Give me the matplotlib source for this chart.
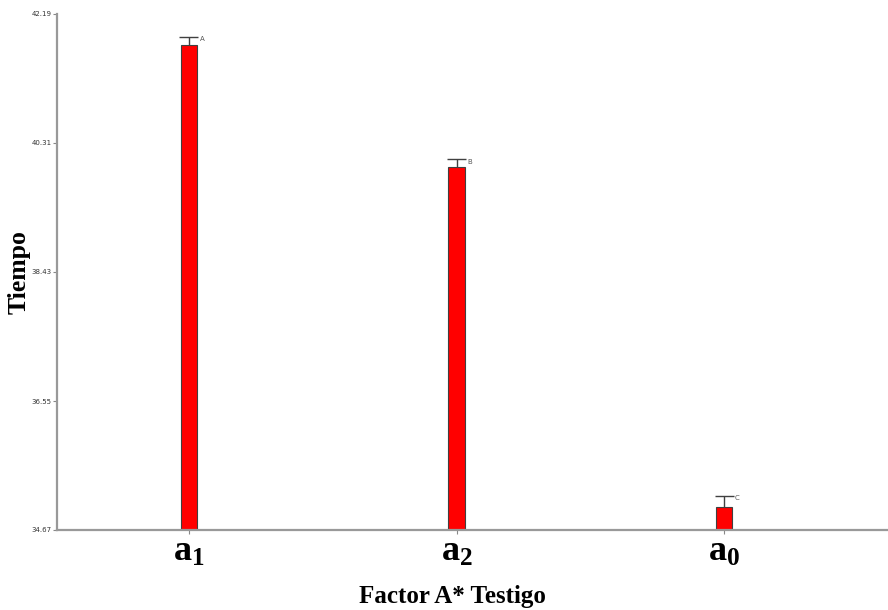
import numpy as np
import matplotlib
matplotlib.use("Agg")
import matplotlib.pyplot as plt

plt.rcParams['mathtext.fontset'] = 'custom'
plt.rcParams['mathtext.rm'] = 'Liberation Serif:bold'
plt.rcParams['mathtext.bf'] = 'Liberation Serif:bold'

# data
groups = [r'$\mathrm{a_1}$', r'$\mathrm{a_2}$', r'$\mathrm{a_0}$']
means = [41.74, 39.96, 35.00]
errors = [0.12, 0.12, 0.17]
letters = ['A', 'B', 'C']
yticks = [34.67, 36.55, 38.43, 40.31, 42.19]

fig = plt.figure(figsize=(8.88, 6.10), dpi=100)
ax = fig.add_axes([57/888, 80/610, 831/888, 516/610])

x = np.arange(len(groups))
tops = np.array(means) + np.array(errors)
ax.bar(x, np.array(means) - yticks[0], bottom=yticks[0], width=0.06,
       color='red', edgecolor='#404040', linewidth=0.8, zorder=2)
# upper error bars only
ax.vlines(x, means, tops, color='#404040', linewidth=1, zorder=3)
ax.hlines(tops, x - 0.035, x + 0.035, color='#404040', linewidth=1, zorder=3)
for xi, t, lab in zip(x, tops, letters):
    ax.text(xi + 0.04, t - 0.04, lab, fontsize=5, color='#555555',
            ha='left', va='center')

ax.set_xlim(-0.4925, 2.612)
ax.set_ylim(yticks[0], yticks[-1])
ax.set_yticks(yticks)
ax.set_yticklabels([f'{v:.2f}' for v in yticks], fontsize=5, color='#333333')
ax.set_xticks(x)
ax.set_xticklabels(groups, fontsize=26, color='black')
ax.tick_params(axis='y', length=3, width=0.8, color='#888888', pad=1)
ax.tick_params(axis='x', length=3, width=0.8, color='#888888', pad=0)

for s in ['top', 'right']:
    ax.spines[s].set_visible(False)
for s in ['left', 'bottom']:
    ax.spines[s].set_color('#999999')
    ax.spines[s].set_linewidth(1.6)

fig.text(19/888, 1 - 272/610, 'Tiempo', fontsize=18.5, fontweight='bold',
         family='Liberation Serif', rotation=90, ha='center', va='center')
fig.text(452/888, 1 - 597/610, 'Factor A* Testigo', fontsize=18, fontweight='bold',
         family='Liberation Serif', ha='center', va='center')

fig.savefig('out.png', dpi=100)
